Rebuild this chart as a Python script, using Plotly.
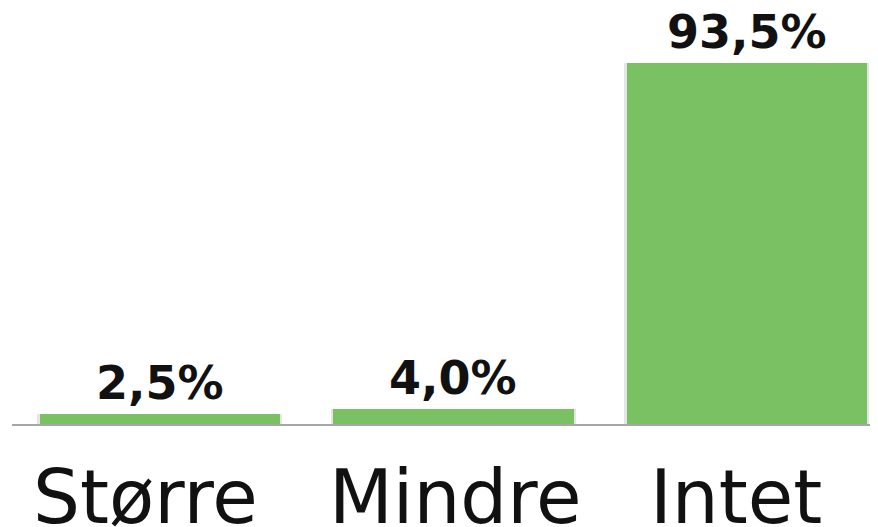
import plotly.graph_objects as go

categories = ["Større", "Mindre", "Intet"]
values = [2.5, 4.0, 93.5]
labels = ["2,5%", "4,0%", "93,5%"]

BAR_COLOR = "#79c162"
FONT = "DejaVu Sans, Verdana, sans-serif"
CAT_XSHIFT = [-14, 2, -11]  # category labels sit slightly off bar centres

fig = go.Figure()

# soft shadow behind the bars
fig.add_trace(go.Bar(
    x=categories, y=values, width=0.835,
    marker=dict(color="rgba(0,0,0,0.10)", line=dict(width=0)),
    hoverinfo="skip", showlegend=False,
))
fig.add_trace(go.Bar(
    x=categories, y=values, width=0.82,
    marker=dict(color=BAR_COLOR, line=dict(width=0)),
    showlegend=False,
))

for cat, val, lab in zip(categories, values, labels):
    fig.add_annotation(
        x=cat, y=val, text=f"<b>{lab}</b>", showarrow=False,
        yanchor="middle", yshift=31,
        font=dict(family=FONT, size=46, color="#111"),
    )

for cat, dx in zip(categories, CAT_XSHIFT):
    fig.add_annotation(
        x=cat, y=0, text=cat, showarrow=False,
        yanchor="middle", yshift=-73, xshift=dx,
        font=dict(family=FONT, size=74, color="#111"),
    )

# page body has an 8px margin, so the figure is offset by (8, 8)
fig.update_layout(
    width=878, height=527,
    margin=dict(l=4, r=0, t=0, b=111, autoexpand=False),
    paper_bgcolor="white", plot_bgcolor="white",
    barmode="overlay", bargap=0,
    font=dict(family=FONT, color="#111"),
)
fig.update_xaxes(
    range=[-0.504, 2.474], showline=True, linecolor="#a6a6a6", linewidth=2,
    showgrid=False, ticks="", showticklabels=False, automargin=False,
)
fig.update_yaxes(range=[0, 107.7], visible=False, showgrid=False, zeroline=False,
                 automargin=False)

fig.write_html("out.html")
